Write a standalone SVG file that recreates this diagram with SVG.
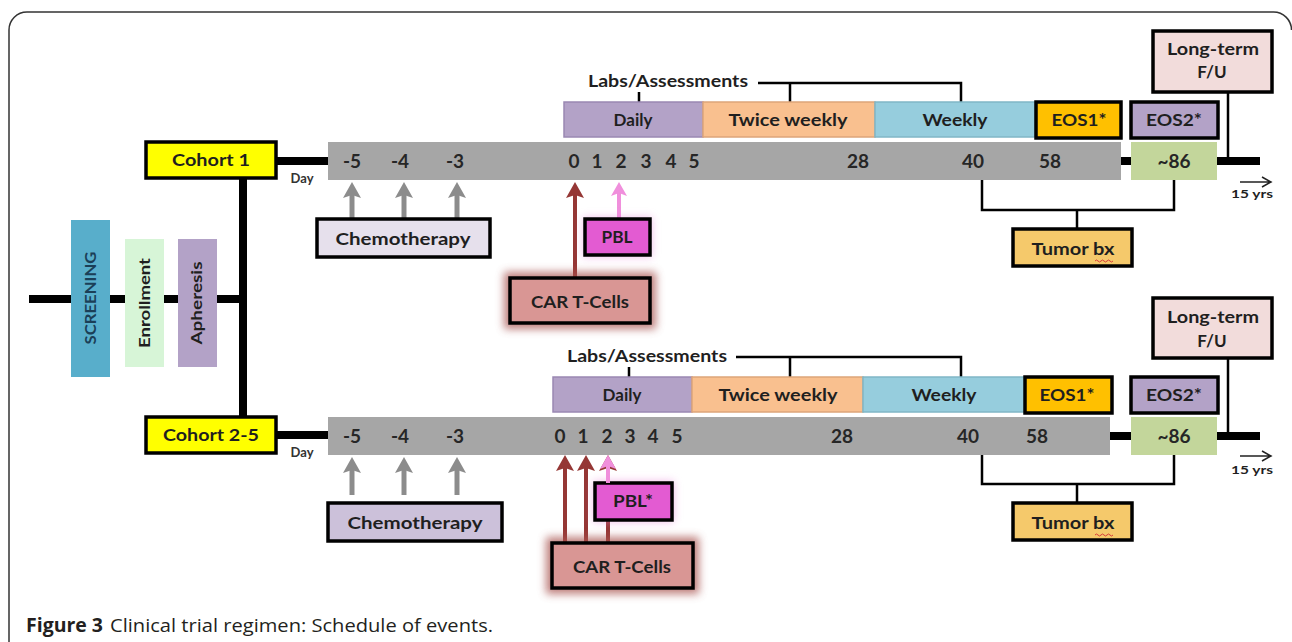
<svg xmlns="http://www.w3.org/2000/svg" width="1292" height="642" viewBox="0 0 1292 642">
<defs>
<style>
.lb{font-family:Lato,"Liberation Sans",sans-serif;font-weight:bold;fill:#1f1f1f;text-anchor:middle}
.num{font-family:Lato,"Liberation Sans",sans-serif;font-weight:bold;fill:#262626;font-size:19px;text-anchor:middle}
.box{stroke:#000;stroke-width:3.5}
.bar{stroke-width:1.5}
.thick{stroke:#000;stroke-width:8;fill:none}
.thin{stroke:#000;stroke-width:2.5;fill:none}
.gray{stroke:#8C8C8C;stroke-width:5;fill:none;marker-end:url(#hg)}
.red{stroke:#953735;stroke-width:4;fill:none;marker-end:url(#hr)}
.pink{stroke:#F08FDC;stroke-width:4;fill:none;marker-end:url(#hp)}
.cap{font-family:"Open Sans","Liberation Sans",sans-serif;font-size:19px;fill:#231f20}
</style>
<marker id="hg" viewBox="0 0 16 18" refX="6" refY="9" markerWidth="16" markerHeight="18" markerUnits="userSpaceOnUse" orient="auto"><path d="M0,0 L16,9 L0,18 L3,9 Z" fill="#8C8C8C"/></marker>
<marker id="hr" viewBox="0 0 16 18" refX="6" refY="9" markerWidth="16" markerHeight="18" markerUnits="userSpaceOnUse" orient="auto"><path d="M0,0 L16,9 L0,18 L3,9 Z" fill="#953735"/></marker>
<marker id="hp" viewBox="0 0 14 16" refX="5" refY="8" markerWidth="14" markerHeight="16" markerUnits="userSpaceOnUse" orient="auto"><path d="M0,0 L14,8 L0,16 L3,8 Z" fill="#F08FDC"/></marker>
<filter id="glow" x="-30%" y="-40%" width="160%" height="180%"><feGaussianBlur stdDeviation="4"/></filter>
</defs>
<rect width="1292" height="642" fill="#fff"/>
<path d="M9,642 V30 A18,18 0 0 1 27,12 H1273 A18,18 0 0 1 1291.5,30" fill="none" stroke="#333" stroke-width="1.5"/>

<g id="connectors">
<line class="thick" x1="29" y1="299" x2="247" y2="299"/>
<line class="thick" x1="243" y1="176" x2="243" y2="419"/>
<line class="thick" x1="276" y1="161" x2="330" y2="161"/>
<line class="thick" x1="276" y1="435" x2="330" y2="435"/>
<line class="thick" x1="1120" y1="161" x2="1132" y2="161"/>
<line class="thick" x1="1216" y1="161" x2="1260" y2="161"/>
<line class="thick" x1="1109" y1="436" x2="1132" y2="436"/>
<line class="thick" x1="1216" y1="436" x2="1260" y2="436"/>
<line class="thin" x1="1228" y1="92" x2="1228" y2="161" stroke-width="3"/>
<line class="thin" x1="1228" y1="358" x2="1228" y2="436" stroke-width="3"/>
<path class="thin" d="M758,83 H961 V102 M790,83 V102 M639,92 V102"/>
<path class="thin" d="M736,357 H961 V377 M790,357 V377 M629,367 V377"/>
<path class="thin" d="M982,180 V210 H1174 V180 M1077,210 V229"/>
<path class="thin" d="M982,455 V484 H1174 V455 M1077,484 V503"/>
<line class="gray" x1="352" y1="219" x2="352" y2="192"/>
<line class="gray" x1="404" y1="219" x2="404" y2="192"/>
<line class="gray" x1="457" y1="219" x2="457" y2="192"/>
<line class="gray" x1="352" y1="495" x2="352" y2="467"/>
<line class="gray" x1="404" y1="495" x2="404" y2="467"/>
<line class="gray" x1="457" y1="495" x2="457" y2="467"/>
<line class="red" x1="575" y1="278" x2="575" y2="192"/>
<line class="red" x1="565" y1="543" x2="565" y2="465"/>
<line class="red" x1="586" y1="543" x2="586" y2="465"/>
<line class="red" x1="608" y1="543" x2="608" y2="465"/>
<path d="M1240,182 H1270 M1262,177 L1271,182 L1262,187" fill="none" stroke="#222" stroke-width="1.5"/>
<path d="M1240,456 H1270 M1262,451 L1271,456 L1262,461" fill="none" stroke="#222" stroke-width="1.5"/>
</g>

<g id="screening">
<rect x="71" y="220" width="39" height="157" fill="#58AECB"/>
<text class="lb" transform="translate(96,298) rotate(-90)" font-size="16" textLength="93" lengthAdjust="spacingAndGlyphs" style="fill:#1B3F57">SCREENING</text>
</g>
<g id="enrollment">
<rect x="125" y="239" width="39" height="128" fill="#D7F5D7"/>
<text class="lb" transform="translate(150,303) rotate(-90)" font-size="16" textLength="90" lengthAdjust="spacingAndGlyphs">Enrollment</text>
</g>
<g id="apheresis">
<rect x="178" y="239" width="39" height="128" fill="#B3A2C7"/>
<text class="lb" transform="translate(202,303) rotate(-90)" font-size="16" textLength="83" lengthAdjust="spacingAndGlyphs">Apheresis</text>
</g>

<!-- Cohort 1 -->
<g id="cohort1">
<rect class="box" x="146" y="142" width="130" height="36" fill="#FFFF00"/>
<text class="lb" x="211" y="166" font-size="17" textLength="78" lengthAdjust="spacingAndGlyphs">Cohort 1</text>
</g>
<g id="timeline1">
<text class="lb" x="302" y="183" font-size="13" style="fill:#333">Day</text>
<rect x="328" y="142" width="793" height="38" fill="#A6A6A6"/>
<text class="num" x="352" y="168">-5</text>
<text class="num" x="400" y="168">-4</text>
<text class="num" x="455" y="168">-3</text>
<text class="num" x="574" y="168">0</text>
<text class="num" x="597" y="168">1</text>
<text class="num" x="621" y="168">2</text>
<text class="num" x="646" y="168">3</text>
<text class="num" x="671" y="168">4</text>
<text class="num" x="694" y="168">5</text>
<text class="num" x="858" y="168">28</text>
<text class="num" x="973" y="168">40</text>
<text class="num" x="1050" y="168">58</text>
</g>
<g id="day86-1">
<rect x="1131" y="142" width="86" height="38" fill="#C3D69B"/>
<text class="num" x="1174" y="168">~86</text>
</g>
<g id="longterm1">
<rect class="box" x="1153" y="31" width="119" height="61" fill="#F2DCDB"/>
<text class="lb" x="1213" y="55" font-size="17" textLength="92" lengthAdjust="spacingAndGlyphs">Long-term</text>
<text class="lb" x="1212" y="78" font-size="17">F/U</text>
</g>
<text class="lb" x="1252" y="198" font-size="12" textLength="42" lengthAdjust="spacingAndGlyphs">15 yrs</text>
<text class="lb" x="588" y="87" font-size="17" textLength="160" lengthAdjust="spacingAndGlyphs" style="text-anchor:start">Labs/Assessments</text>
<g id="daily1">
<rect class="bar" x="564" y="102" width="139" height="35" fill="#B3A2C7" stroke="#9A88B3"/>
<text class="lb" x="633" y="126" font-size="17">Daily</text>
</g>
<g id="twice1">
<rect class="bar" x="703" y="102" width="172" height="35" fill="#F9C08F" stroke="#DDA57A"/>
<text class="lb" x="788" y="126" font-size="17" textLength="119" lengthAdjust="spacingAndGlyphs">Twice weekly</text>
</g>
<g id="weekly1">
<rect class="bar" x="875" y="102" width="160" height="35" fill="#96CDDD" stroke="#80B6C6"/>
<text class="lb" x="955" y="126" font-size="17" textLength="65" lengthAdjust="spacingAndGlyphs">Weekly</text>
</g>
<g id="eos1-1">
<rect class="box" x="1036" y="102" width="85" height="36" fill="#FFC000"/>
<text class="lb" x="1079" y="126" font-size="17" textLength="55" lengthAdjust="spacingAndGlyphs">EOS1*</text>
</g>
<g id="eos2-1">
<rect class="box" x="1131" y="102" width="87" height="36" fill="#B3A2C7"/>
<text class="lb" x="1174" y="126" font-size="17" textLength="56" lengthAdjust="spacingAndGlyphs">EOS2*</text>
</g>
<g id="tumor1">
<rect class="box" x="1013" y="229" width="119" height="37" fill="#F5C96B"/>
<text class="lb" x="1073" y="255" font-size="17" textLength="83" lengthAdjust="spacingAndGlyphs">Tumor bx</text>
<path d="M1095,261 q1.5,-2 3,0 t3,0 t3,0 t3,0 t3,0 t3,0" fill="none" stroke="#D83A3A" stroke-width="1"/>
</g>
<g id="chemo1">
<rect class="box" x="317" y="219" width="173" height="38" fill="#E6E0EC"/>
<text class="lb" x="403" y="245" font-size="17" textLength="135" lengthAdjust="spacingAndGlyphs">Chemotherapy</text>
</g>
<line class="pink" x1="619" y1="219" x2="619" y2="191"/>
<g id="pbl1">
<rect x="583" y="217" width="69" height="40" fill="#E87FD9" opacity="0.5" filter="url(#glow)"/>
<rect class="box" x="585" y="219" width="65" height="36" fill="#E35BD2"/>
<text class="lb" x="617" y="243" font-size="17" textLength="31" lengthAdjust="spacingAndGlyphs">PBL</text>
</g>
<g id="car1">
<rect x="504" y="272" width="152" height="57" fill="#A8524F" opacity="0.75" filter="url(#glow)"/>
<rect class="box" x="510" y="278" width="140" height="45" fill="#D99694"/>
<text class="lb" x="580" y="308" font-size="17" textLength="98" lengthAdjust="spacingAndGlyphs">CAR T-Cells</text>
</g>

<!-- Cohort 2-5 -->
<g id="cohort2">
<rect class="box" x="146" y="417" width="130" height="36" fill="#FFFF00"/>
<text class="lb" x="211" y="441" font-size="17" textLength="96" lengthAdjust="spacingAndGlyphs">Cohort 2-5</text>
</g>
<g id="timeline2">
<text class="lb" x="302" y="457" font-size="13" style="fill:#333">Day</text>
<rect x="328" y="417" width="782" height="38" fill="#A6A6A6"/>
<text class="num" x="352" y="443">-5</text>
<text class="num" x="400" y="443">-4</text>
<text class="num" x="455" y="443">-3</text>
<text class="num" x="560" y="443">0</text>
<text class="num" x="583" y="443">1</text>
<text class="num" x="607" y="443">2</text>
<text class="num" x="630" y="443">3</text>
<text class="num" x="653" y="443">4</text>
<text class="num" x="677" y="443">5</text>
<text class="num" x="842" y="443">28</text>
<text class="num" x="968" y="443">40</text>
<text class="num" x="1037" y="443">58</text>
</g>
<g id="day86-2">
<rect x="1131" y="417" width="86" height="38" fill="#C3D69B"/>
<text class="num" x="1174" y="443">~86</text>
</g>
<g id="longterm2">
<rect class="box" x="1153" y="298" width="119" height="60" fill="#F2DCDB"/>
<text class="lb" x="1213" y="323" font-size="17" textLength="92" lengthAdjust="spacingAndGlyphs">Long-term</text>
<text class="lb" x="1212" y="347" font-size="17">F/U</text>
</g>
<text class="lb" x="1252" y="474" font-size="12" textLength="42" lengthAdjust="spacingAndGlyphs">15 yrs</text>
<text class="lb" x="567" y="362" font-size="17" textLength="160" lengthAdjust="spacingAndGlyphs" style="text-anchor:start">Labs/Assessments</text>
<g id="daily2">
<rect class="bar" x="553" y="377" width="139" height="35" fill="#B3A2C7" stroke="#9A88B3"/>
<text class="lb" x="622" y="401" font-size="17">Daily</text>
</g>
<g id="twice2">
<rect class="bar" x="692" y="377" width="171" height="35" fill="#F9C08F" stroke="#DDA57A"/>
<text class="lb" x="778" y="401" font-size="17" textLength="119" lengthAdjust="spacingAndGlyphs">Twice weekly</text>
</g>
<g id="weekly2">
<rect class="bar" x="863" y="377" width="162" height="35" fill="#96CDDD" stroke="#80B6C6"/>
<text class="lb" x="944" y="401" font-size="17" textLength="65" lengthAdjust="spacingAndGlyphs">Weekly</text>
</g>
<g id="eos1-2">
<rect class="box" x="1025" y="377" width="87" height="36" fill="#FFC000"/>
<text class="lb" x="1067" y="401" font-size="17" textLength="55" lengthAdjust="spacingAndGlyphs">EOS1*</text>
</g>
<g id="eos2-2">
<rect class="box" x="1131" y="377" width="87" height="36" fill="#B3A2C7"/>
<text class="lb" x="1174" y="401" font-size="17" textLength="56" lengthAdjust="spacingAndGlyphs">EOS2*</text>
</g>
<g id="tumor2">
<rect class="box" x="1013" y="503" width="119" height="37" fill="#F5C96B"/>
<text class="lb" x="1073" y="529" font-size="17" textLength="83" lengthAdjust="spacingAndGlyphs">Tumor bx</text>
<path d="M1095,535 q1.5,-2 3,0 t3,0 t3,0 t3,0 t3,0 t3,0" fill="none" stroke="#D83A3A" stroke-width="1"/>
</g>
<g id="chemo2">
<rect class="box" x="328" y="503" width="174" height="38" fill="#CCC1DA"/>
<text class="lb" x="415" y="529" font-size="17" textLength="135" lengthAdjust="spacingAndGlyphs">Chemotherapy</text>
</g>
<g id="pbl2">
<rect x="593" y="481" width="81" height="41" fill="#E87FD9" opacity="0.5" filter="url(#glow)"/>
<rect class="box" x="595" y="483" width="77" height="37" fill="#E35BD2"/>
<text class="lb" x="633" y="507" font-size="17" textLength="40" lengthAdjust="spacingAndGlyphs">PBL*</text>
</g>
<line class="pink" x1="608" y1="483" x2="608" y2="464"/>
<g id="car2">
<rect x="546" y="537" width="153" height="57" fill="#A8524F" opacity="0.75" filter="url(#glow)"/>
<rect class="box" x="552" y="543" width="141" height="45" fill="#D99694"/>
<text class="lb" x="622" y="573" font-size="17" textLength="98" lengthAdjust="spacingAndGlyphs">CAR T-Cells</text>
</g>

<text class="cap" x="26" y="632" font-weight="bold" textLength="77" lengthAdjust="spacingAndGlyphs">Figure 3</text>
<text class="cap" x="110" y="632" textLength="383" lengthAdjust="spacingAndGlyphs">Clinical trial regimen: Schedule of events.</text>
</svg>
